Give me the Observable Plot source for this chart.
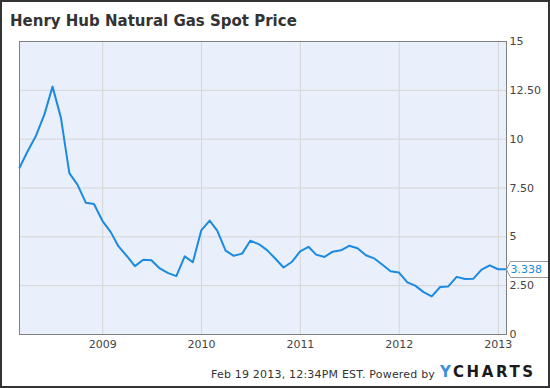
<!DOCTYPE html>
<html>
<head>
<meta charset="utf-8">
<script src="https://cdn.jsdelivr.net/npm/d3@7"></script>
<script src="https://cdn.jsdelivr.net/npm/@observablehq/plot@0.6"></script>
<style>
  html, body { margin: 0; padding: 0; background: #fff; }
  #wrap { position: relative; width: 550px; height: 388px; overflow: hidden; font-family: "DejaVu Sans", sans-serif; }
  #frame { position: absolute; left: 0; top: 0; width: 550px; height: 388px; box-sizing: border-box; border: 2px solid #333; pointer-events: none; }
  #title { position: absolute; left: 10px; top: 14px; font-size: 15px; line-height: 15px; font-weight: bold; color: #333; white-space: nowrap; }
  #footer { position: absolute; left: 211px; top: 369px; font-size: 11px; line-height: 11px; letter-spacing: 0.2px; color: #333; white-space: nowrap; }
  #logo { position: absolute; left: 440px; top: 365px; font-size: 15px; line-height: 15px; font-weight: bold; letter-spacing: 2.6px; color: #1a1a1a; white-space: nowrap; }
  #logo span { color: #3a90dc; }
  #chart { position: absolute; left: 0; top: 0; }
</style>
</head>
<body>
<div id="wrap">
  <div id="chart"></div>
  <div id="title">Henry Hub Natural Gas Spot Price</div>
  <div id="footer">Feb 19 2013, 12:34PM EST. Powered by</div>
  <div id="logo"><span>Y</span>CHARTS</div>
  <div id="frame"></div>
</div>
<script>
// Monthly dates (month-end), Feb 2008 – Jan 2013
const months = [
  "2008-02-29","2008-03-31","2008-04-30","2008-05-31","2008-06-30","2008-07-31","2008-08-31","2008-09-30","2008-10-31","2008-11-30","2008-12-31",
  "2009-01-31","2009-02-28","2009-03-31","2009-04-30","2009-05-31","2009-06-30","2009-07-31","2009-08-31","2009-09-30","2009-10-31","2009-11-30","2009-12-31",
  "2010-01-31","2010-02-28","2010-03-31","2010-04-30","2010-05-31","2010-06-30","2010-07-31","2010-08-31","2010-09-30","2010-10-31","2010-11-30","2010-12-31",
  "2011-01-31","2011-02-28","2011-03-31","2011-04-30","2011-05-31","2011-06-30","2011-07-31","2011-08-31","2011-09-30","2011-10-31","2011-11-30","2011-12-31",
  "2012-01-31","2012-02-29","2012-03-31","2012-04-30","2012-05-31","2012-06-30","2012-07-31","2012-08-31","2012-09-30","2012-10-31","2012-11-30","2012-12-31",
  "2013-01-31"
];
// Spot price, USD/MMBtu
const prices = [
  8.54, 9.41, 10.18, 11.27, 12.69, 11.09, 8.26, 7.67, 6.74, 6.68, 5.82,
  5.24, 4.52, 4.02, 3.50, 3.83, 3.80, 3.38, 3.14, 2.99, 4.00, 3.70, 5.33,
  5.83, 5.32, 4.29, 4.03, 4.14, 4.80, 4.63, 4.32, 3.89, 3.43, 3.71, 4.25,
  4.49, 4.09, 3.97, 4.24, 4.31, 4.54, 4.42, 4.06, 3.90, 3.57, 3.24, 3.17,
  2.67, 2.50, 2.17, 1.95, 2.43, 2.46, 2.95, 2.84, 2.85, 3.32, 3.54, 3.34,
  3.338
];
const yTicks = [0, 2.5, 5, 7.5, 10, 12.5, 15];
const yTickLabels = ["0", "2.50", "5", "7.50", "10", "12.50", "15"];
const xTicks = ["2009-01-01", "2010-01-01", "2011-01-01", "2012-01-01", "2013-01-01"];
const xTickLabels = ["2009", "2010", "2011", "2012", "2013"];
const lastValue = 3.338;

const data = months.map((m, i) => ({date: new Date(m), price: prices[i]}));
const xTickDates = xTicks.map(d => new Date(d));

const lineColor = "#1b8ae0";

function valueTag(index, scales, values, dimensions) {
  const x0 = dimensions.width - dimensions.marginRight + 0.5;
  const y0 = Math.round(scales.y(lastValue)) + 0.5;
  const g = d3.create("svg:g");
  const h = 16, w = 46, p = 4;
  g.append("path")
    .attr("d", `M${x0},${y0} L${x0 + p},${y0 - h / 2} L${x0 + p + w},${y0 - h / 2} L${x0 + p + w},${y0 + h / 2} L${x0 + p},${y0 + h / 2} Z`)
    .attr("fill", "#fff")
    .attr("stroke", "#999")
    .attr("stroke-width", 1);
  g.append("text")
    .attr("x", x0 + p)
    .attr("y", y0)
    .attr("dy", "0.35em")
    .attr("text-anchor", "start")
    .attr("fill", lineColor)
    .attr("font-size", 11)
    .text(lastValue.toFixed(3));
  return g.node();
}

const chart = Plot.plot({
  width: 550,
  height: 360,
  marginTop: 41,
  marginBottom: 26,
  marginLeft: 19,
  marginRight: 44,
  style: {fontFamily: "DejaVu Sans, sans-serif", fontSize: "11px", color: "#444", background: "transparent"},
  x: {type: "utc", domain: [new Date(months[0]), new Date(months[months.length - 1])]},
  y: {domain: [0, 15]},
  marks: [
    Plot.frame({fill: "#e9f0fb", stroke: null}),
    Plot.gridX(xTickDates, {stroke: "#d6d6d6", strokeOpacity: 1}),
    Plot.gridY(yTicks, {stroke: "#d6d6d6", strokeOpacity: 1}),
    Plot.frame({stroke: "#808080", strokeWidth: 1}),
    Plot.axisX(xTickDates, {tickSize: 0, tickPadding: 6, tickFormat: (d, i) => xTickLabels[i], fill: "#444"}),
    Plot.axisY(yTicks, {anchor: "right", tickSize: 0, tickPadding: 3, tickFormat: (d, i) => yTickLabels[i], fill: "#444", label: null}),
    Plot.line(data, {x: "date", y: "price", stroke: lineColor, strokeWidth: 2}),
    valueTag
  ]
});
document.getElementById("chart").appendChild(chart);
</script>
</body>
</html>
